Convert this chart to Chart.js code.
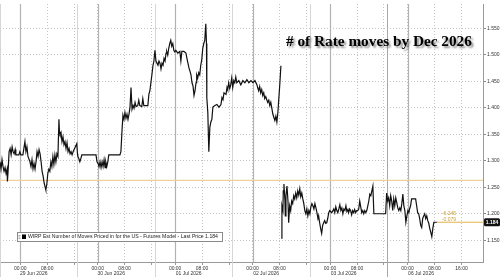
<!DOCTYPE html>
<html>
<head>
<meta charset="utf-8">
<script src="https://cdn.jsdelivr.net/npm/chart.js@4.4.1/dist/chart.umd.min.js"></script>
<style>
  html, body { margin: 0; padding: 0; background: #fff; }
  #wrap { width: 500px; height: 277px; }
</style>
</head>
<body>
<div id="wrap"><canvas id="wirpChart" width="500" height="277"></canvas></div>
<script>
// x = trading hours since 28 Jun 18:00, every session is 23h (18:00 -> 17:00), weekend collapsed
const hours = [
  0.0, 0.3, 0.6, 0.9, 1.2, 1.5, 1.8, 2.1, 2.2, 2.4,
  2.7, 3.0, 3.3, 3.6, 3.9, 4.2, 4.5, 4.7, 5.6, 5.9,
  6.2, 6.8, 7.4, 7.7, 8.0, 8.3, 8.9, 9.2, 9.5, 9.8,
  10.1, 10.4, 10.7, 11.0, 11.3, 11.6, 11.9, 12.2, 12.5, 12.8,
  13.1, 13.4, 13.6, 13.9, 14.2, 14.5, 14.8, 15.1, 15.4, 15.7,
  16.0, 16.3, 16.6, 16.9, 17.2, 17.5, 17.65, 17.8, 18.1, 18.4,
  18.7, 19.0, 19.3, 19.6, 19.9, 20.2, 20.5, 20.8, 21.1, 21.4,
  21.7, 22.8, 23.0, 23.1, 23.4, 23.7, 24.0, 24.3, 25.5, 26.7,
  27.9, 28.5, 28.8, 29.1, 29.4, 29.7, 30.0, 30.3, 30.6, 30.9,
  31.2, 31.4, 31.7, 32.0, 32.3, 33.2, 34.4, 35.6, 35.9, 36.2,
  36.5, 36.8, 37.1, 37.4, 37.7, 38.0, 38.3, 38.6, 38.9, 39.2,
  39.5, 39.8, 40.1, 40.4, 40.9, 41.2, 41.5, 42.1, 42.4, 42.7,
  43.3, 43.9, 44.2, 44.5, 44.8, 45.1, 45.4, 45.7, 46.0, 46.3,
  46.6, 46.9, 47.2, 47.5, 47.8, 48.1, 48.4, 48.7, 49.0, 49.3,
  49.5, 49.8, 50.1, 50.4, 50.7, 51.0, 51.3, 51.6, 51.9, 52.2,
  52.8, 53.4, 53.7, 54.0, 54.6, 55.2, 55.5, 55.8, 56.1, 56.4,
  56.7, 57.0, 57.3, 57.6, 57.9, 58.2, 58.4, 58.7, 59.0, 59.3,
  59.6, 59.9, 60.2, 60.5, 60.8, 61.1, 61.3, 61.4, 61.7, 62.0,
  62.3, 62.6, 62.9, 63.2, 63.8, 64.4, 65.0, 65.6, 65.9, 66.2,
  66.5, 67.1, 67.4, 67.6, 67.9, 68.2, 68.5, 68.8, 69.1, 69.4,
  69.7, 70.0, 70.3, 70.9, 71.5, 72.1, 72.7, 73.3, 73.9, 74.5,
  75.1, 75.7, 76.3, 76.5, 76.8, 77.1, 77.4, 77.7, 78.0, 78.3,
  78.6, 78.9, 79.2, 79.5, 79.8, 80.1, 80.4, 80.7, 81.0, 81.3,
  81.6, 81.9, 82.2, 82.5, 82.8, 83.1, 83.4, 83.45, 83.5, 83.7,
  84.0, 84.1, 84.3, 84.6, 84.7, 84.9, 85.2, 85.5, 85.7, 86.0,
  86.3, 86.6, 86.9, 87.2, 87.5, 87.8, 88.1, 88.4, 88.7, 89.0,
  89.3, 89.6, 89.9, 90.2, 90.5, 90.8, 91.1, 91.4, 91.7, 92.0,
  92.3, 92.6, 92.9, 93.2, 93.5, 93.8, 94.1, 94.4, 94.6, 94.9,
  95.2, 95.5, 95.8, 96.1, 96.4, 96.7, 97.0, 97.3, 97.6, 97.9,
  98.5, 99.1, 99.4, 99.7, 100.0, 100.3, 100.6, 100.9, 101.2, 101.5,
  101.8, 102.1, 102.4, 102.7, 103.0, 103.3, 103.5, 103.8, 104.1, 104.4,
  104.7, 105.0, 105.3, 105.6, 105.9, 106.2, 106.5, 106.8, 107.1, 107.4,
  107.7, 108.0, 108.3, 108.6, 108.9, 109.2, 109.5, 109.8, 110.1, 110.4,
  110.7, 111.0, 112.7, 114.5, 114.8, 115.1, 115.4, 115.7, 116.0, 116.3,
  116.6, 116.9, 117.2, 117.5, 117.8, 118.1, 118.4, 118.7, 119.0, 119.3,
  119.6, 119.9, 120.2, 120.5, 120.8, 121.1, 121.4, 121.6, 121.9, 122.2,
  122.8, 123.4, 123.7, 124.0, 124.3, 124.6, 124.9, 125.2, 125.5, 125.8,
  126.1, 126.4, 126.7, 127.0, 127.3, 127.6, 127.9, 128.2, 128.5, 128.8,
  129.7
];

const wirp = [
  1.298, 1.284, 1.302, 1.289, 1.280, 1.287, 1.276, 1.284, 1.261, 1.280,
  1.317, 1.323, 1.311, 1.326, 1.317, 1.313, 1.321, 1.311, 1.311, 1.317,
  1.311, 1.311, 1.336, 1.317, 1.326, 1.308, 1.298, 1.289, 1.302, 1.285,
  1.295, 1.284, 1.298, 1.317, 1.308, 1.321, 1.313, 1.298, 1.280, 1.271,
  1.258, 1.250, 1.245, 1.256, 1.276, 1.284, 1.280, 1.298, 1.289, 1.308,
  1.293, 1.311, 1.298, 1.313, 1.308, 1.378, 1.354, 1.350, 1.354, 1.336,
  1.345, 1.330, 1.336, 1.323, 1.334, 1.317, 1.323, 1.313, 1.317, 1.311,
  1.317, 1.332, 1.313, 1.308, 1.304, 1.298, 1.304, 1.311, 1.311, 1.311,
  1.311, 1.311, 1.298, 1.295, 1.289, 1.298, 1.287, 1.298, 1.289, 1.302,
  1.287, 1.298, 1.289, 1.298, 1.311, 1.311, 1.311, 1.311, 1.317, 1.354,
  1.386, 1.378, 1.391, 1.380, 1.388, 1.378, 1.388, 1.401, 1.438, 1.397,
  1.404, 1.399, 1.410, 1.402, 1.404, 1.414, 1.404, 1.402, 1.417, 1.404,
  1.404, 1.404, 1.425, 1.432, 1.447, 1.462, 1.479, 1.488, 1.508, 1.488,
  1.484, 1.480, 1.488, 1.484, 1.473, 1.484, 1.480, 1.493, 1.488, 1.503,
  1.506, 1.499, 1.512, 1.521, 1.527, 1.516, 1.521, 1.508, 1.505, 1.508,
  1.503, 1.506, 1.488, 1.506, 1.506, 1.503, 1.493, 1.484, 1.475, 1.469,
  1.462, 1.447, 1.441, 1.423, 1.432, 1.447, 1.462, 1.456, 1.466, 1.462,
  1.480, 1.490, 1.512, 1.521, 1.527, 1.558, 1.521, 1.419, 1.391, 1.317,
  1.363, 1.373, 1.378, 1.401, 1.404, 1.406, 1.401, 1.406, 1.419, 1.415,
  1.428, 1.425, 1.438, 1.434, 1.447, 1.436, 1.443, 1.456, 1.438, 1.451,
  1.447, 1.458, 1.447, 1.451, 1.443, 1.451, 1.447, 1.453, 1.447, 1.451,
  1.447, 1.451, 1.443, 1.438, 1.432, 1.440, 1.428, 1.434, 1.423, 1.428,
  1.417, 1.421, 1.415, 1.410, 1.414, 1.404, 1.410, 1.399, 1.388, 1.382,
  1.376, 1.384, 1.373, 1.391, 1.419, 1.447, 1.479, null, 1.154, 1.215,
  1.206, 1.243, 1.256, 1.224, 1.196, 1.234, 1.252, 1.224, 1.183, 1.215,
  1.206, 1.224, 1.219, 1.234, 1.228, 1.239, 1.230, 1.243, 1.235, 1.247,
  1.232, 1.239, 1.228, 1.219, 1.206, 1.200, 1.209, 1.196, 1.206, 1.200,
  1.213, 1.219, 1.215, 1.209, 1.219, 1.211, 1.202, 1.191, 1.196, 1.183,
  1.172, 1.163, 1.178, 1.183, 1.187, 1.182, 1.183, 1.191, 1.202, 1.206,
  1.202, 1.209, 1.202, 1.213, 1.206, 1.202, 1.209, 1.217, 1.206, 1.211,
  1.200, 1.209, 1.206, 1.215, 1.204, 1.208, 1.202, 1.209, 1.206, 1.198,
  1.206, 1.202, 1.208, 1.202, 1.206, 1.206, 1.209, 1.224, 1.213, 1.202,
  1.206, 1.200, 1.206, 1.202, 1.206, 1.215, 1.224, 1.237, 1.234, 1.243,
  1.252, 1.200, 1.200, 1.200, 1.239, 1.224, 1.230, 1.215, 1.234, 1.224,
  1.206, 1.228, 1.215, 1.230, 1.221, 1.211, 1.206, 1.211, 1.206, 1.219,
  1.237, 1.215, 1.206, 1.184, 1.196, 1.206, 1.202, 1.209, 1.215, 1.228,
  1.228, 1.228, 1.215, 1.202, 1.200, 1.191, 1.178, 1.174, 1.191, 1.196,
  1.200, 1.191, 1.196, 1.187, 1.182, 1.172, 1.165, 1.157, 1.172, 1.184,
  1.184
];

const sessionStarts = [0, 23, 46, 69, 92, 115];
const weekendBreak = 115;
const midnights = [6, 29, 52, 75, 98, 121];
const timeTicks = [6, 14, 22, 29, 37, 45, 52, 60, 68, 75, 83, 91, 98, 106, 114, 121, 129, 137];
const timeLabels = ['00:00', '08:00', '', '00:00', '08:00', '', '00:00', '08:00', '',
                    '00:00', '08:00', '', '00:00', '08:00', '', '00:00', '08:00', '16:00'];
const dateTicks = [10, 33, 56, 79, 102, 125];
const dateLabels = ['29 Jun 2026', '30 Jun 2026', '01 Jul 2026', '02 Jul 2026', '03 Jul 2026', '06 Jul 2026'];
const yTicks = [1.15, 1.20, 1.25, 1.30, 1.35, 1.40, 1.45, 1.50, 1.55];

const xMin = 0, xMax = 143.4;
const yMin = 1.109, yMax = 1.5955;
const refLevel = 1.263;
const lastPrice = 1.184;
const lastTime = 129.7;
const changeLabels = ['-6.245', '-0.079'];
const title = '# of Rate moves by Dec 2026';
const legendText = 'WIRP Est Number of Moves Priced in for the US - Futures Model - Last Price 1.184';

const SANS = '"Liberation Sans", Arial, sans-serif';

const overlay = {
    id: 'overlay',
    beforeDatasetsDraw(chart) {
        const { ctx, chartArea, scales: { x } } = chart;
        ctx.save();
        sessionStarts.forEach(h => {
            const px = Math.round(x.getPixelForValue(h)) + 0.5;
            ctx.strokeStyle = h === weekendBreak ? '#a8a8a8' : '#d6d6d6';
            ctx.lineWidth = 1;
            ctx.beginPath();
            ctx.moveTo(px, chartArea.top);
            ctx.lineTo(px, chart.height);
            ctx.stroke();
        });
        ctx.strokeStyle = '#b2b2b2';
        ctx.lineWidth = 1.2;
        midnights.forEach(h => {
            const px = Math.round(x.getPixelForValue(h)) + 0.5;
            ctx.beginPath();
            ctx.moveTo(px, chartArea.top);
            ctx.lineTo(px, chartArea.bottom);
            ctx.stroke();
        });
        ctx.restore();
    },
    afterDraw(chart) {
        const { ctx, scales: { x, y } } = chart;
        ctx.save();

        // title with drop shadow
        let size = 17;
        ctx.font = `bold ${size}px "Liberation Serif", "DejaVu Serif", serif`;
        size = size * 186 / ctx.measureText(title).width;
        ctx.font = `bold ${size}px "Liberation Serif", "DejaVu Serif", serif`;
        ctx.shadowColor = 'rgba(0,0,0,0.45)';
        ctx.shadowOffsetX = 2;
        ctx.shadowOffsetY = 2;
        ctx.shadowBlur = 2;
        ctx.fillStyle = '#000';
        ctx.textAlign = 'left';
        ctx.textBaseline = 'alphabetic';
        ctx.fillText(title, 286, 46);
        ctx.shadowColor = 'transparent';

        // legend box
        ctx.fillStyle = '#fff';
        ctx.fillRect(17, 232, 205, 9);
        ctx.strokeStyle = '#8a8a8a';
        ctx.lineWidth = 1;
        ctx.strokeRect(17.5, 232.5, 205, 9);
        ctx.fillStyle = '#999';
        ctx.fillRect(18.5, 235, 2, 0.8);
        ctx.fillRect(18.5, 236.6, 2, 0.8);
        ctx.fillRect(18.5, 238.2, 2, 0.8);
        ctx.fillStyle = '#000';
        ctx.fillRect(22, 234.5, 4, 4.5);
        let ls = 5.2;
        ctx.font = `${ls}px ${SANS}`;
        ls = ls * 190 / ctx.measureText(legendText).width;
        ctx.font = `${ls}px ${SANS}`;
        ctx.fillStyle = '#222';
        ctx.textBaseline = 'middle';
        ctx.fillText(legendText, 28, 237);

        // change annotations next to the last value
        const lx = x.getPixelForValue(lastTime) + 5;
        const ly = y.getPixelForValue(lastPrice);
        ctx.font = `5px ${SANS}`;
        ctx.fillStyle = '#c9a13a';
        ctx.fillText(changeLabels[0], lx, ly - 9);
        ctx.fillText(changeLabels[1], lx, ly - 3);

        // last price tag on the axis
        ctx.fillStyle = '#111';
        ctx.beginPath();
        ctx.roundRect(484, ly - 4, 16, 8, 1.5);
        ctx.fill();
        ctx.fillStyle = '#fff';
        ctx.font = `bold 5px ${SANS}`;
        ctx.textAlign = 'center';
        ctx.fillText(lastPrice.toFixed(3), 492, ly + 0.3);
        ctx.restore();
    }
};

new Chart(document.getElementById('wirpChart'), {
    type: 'line',
    data: {
        datasets: [{
            label: 'WIRP',
            data: hours.map((h, i) => ({ x: h, y: wirp[i] })),
            borderColor: '#111',
            borderWidth: 1.2,
            pointRadius: 0,
            tension: 0,
            spanGaps: false,
        }, {
            label: 'ref',
            data: [{ x: xMin, y: refLevel }, { x: xMax, y: refLevel }],
            borderColor: '#eed09a',
            borderWidth: 1.3,
            pointRadius: 0,
        }, {
            label: 'last',
            data: [{ x: lastTime, y: lastPrice }, { x: xMax, y: lastPrice }],
            borderColor: '#e2b54a',
            borderWidth: 1,
            pointRadius: 0,
        }]
    },
    options: {
        responsive: false,
        animation: false,
        events: [],
        layout: { padding: 0 },
        plugins: {
            legend: { display: false },
            tooltip: { enabled: false }
        },
        scales: {
            x: {
                type: 'linear',
                position: 'bottom',
                min: xMin,
                max: xMax,
                afterBuildTicks: s => { s.ticks = timeTicks.map(v => ({ value: v })); },
                afterFit: s => { s.height = 9; },
                ticks: {
                    autoSkip: false,
                    maxRotation: 0,
                    padding: 0.5,
                    color: '#333',
                    font: { size: 5, family: SANS },
                    callback: (v, i) => timeLabels[i]
                },
                grid: { color: '#c4c4c4', tickLength: 3, tickColor: '#999' },
                border: { color: '#9a9a9a', dash: [1, 2] }
            },
            x2: {
                type: 'linear',
                position: 'bottom',
                min: xMin,
                max: xMax,
                afterBuildTicks: s => { s.ticks = dateTicks.map(v => ({ value: v })); },
                afterFit: s => { s.height = 6; },
                ticks: {
                    autoSkip: false,
                    maxRotation: 0,
                    padding: 0,
                    color: '#333',
                    font: { size: 5, family: SANS },
                    callback: (v, i) => dateLabels[i]
                },
                grid: { display: false, drawTicks: false },
                border: { display: false }
            },
            y: {
                type: 'linear',
                position: 'right',
                min: yMin,
                max: yMax,
                afterBuildTicks: s => { s.ticks = yTicks.map(v => ({ value: v })); },
                afterFit: s => { s.width = 17; },
                ticks: {
                    padding: 1,
                    color: '#333',
                    font: { size: 5, family: SANS },
                    callback: v => v.toFixed(3)
                },
                grid: { color: '#c4c4c4', tickLength: 3, tickColor: '#888' },
                border: { color: '#9a9a9a', dash: [1, 2] }
            }
        }
    },
    plugins: [overlay]
});
</script>
</body>
</html>
